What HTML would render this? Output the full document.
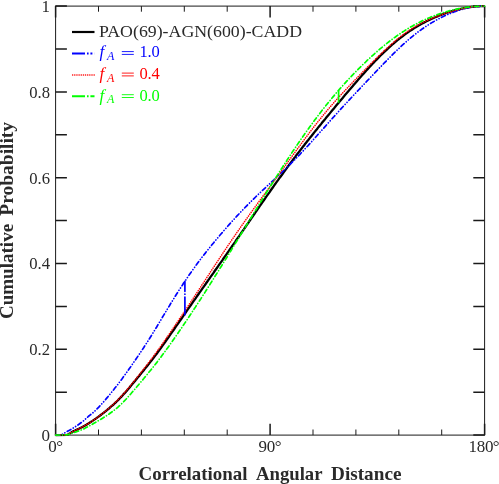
<!DOCTYPE html>
<html><head><meta charset="utf-8"><title>chart</title>
<style>html,body{margin:0;padding:0;background:#fff;}svg{display:block;}text{font-family:"Liberation Serif",serif;}</style></head><body>
<svg width="499" height="484" viewBox="0 0 499 484">
<rect x="0" y="0" width="499" height="484" fill="#fff"/>
<path d="M55.6,6.1 H484.6 M55.6,435.1 H484.6 M55.6,5.6 V435.6 M484.6,5.6 V435.6" stroke="#1a1a1a" stroke-width="1" fill="none"/>
<path d="M55.6,435.10 h11.3 M484.6,435.10 h-11.3 M55.6,392.20 h11.3 M484.6,392.20 h-11.3 M55.6,349.30 h11.3 M484.6,349.30 h-11.3 M55.6,306.40 h11.3 M484.6,306.40 h-11.3 M55.6,263.50 h11.3 M484.6,263.50 h-11.3 M55.6,220.60 h11.3 M484.6,220.60 h-11.3 M55.6,177.70 h11.3 M484.6,177.70 h-11.3 M55.6,134.80 h11.3 M484.6,134.80 h-11.3 M55.6,91.90 h11.3 M484.6,91.90 h-11.3 M55.6,49.00 h11.3 M484.6,49.00 h-11.3 M55.6,6.10 h11.3 M484.6,6.10 h-11.3 " stroke="#1a1a1a" stroke-width="1.5" fill="none"/>
<path d="M55.60,435.1 v-11.3 M55.60,6.1 v11.3 M270.10,435.1 v-11.3 M270.10,6.1 v11.3 M484.60,435.1 v-11.3 M484.60,6.1 v11.3 " stroke="#1a1a1a" stroke-width="1.5" fill="none"/>
<path d="M98.50,435.1 v-5.6 M98.50,6.1 v5.6 M141.40,435.1 v-5.6 M141.40,6.1 v5.6 M184.30,435.1 v-5.6 M184.30,6.1 v5.6 M227.20,435.1 v-5.6 M227.20,6.1 v5.6 M313.00,435.1 v-5.6 M313.00,6.1 v5.6 M355.90,435.1 v-5.6 M355.90,6.1 v5.6 M398.80,435.1 v-5.6 M398.80,6.1 v5.6 M441.70,435.1 v-5.6 M441.70,6.1 v5.6 " stroke="#1a1a1a" stroke-width="1" fill="none"/>
<path d="M55.6,435.10 L66.8,434.80 L67.4,434.69 L68.5,434.24 L69.6,433.58 L70.7,432.83 L71.7,432.15 L72.8,431.60 L73.9,431.08 L75.0,430.57 L76.0,430.07 L77.1,429.58 L78.2,429.08 L79.3,428.58 L80.3,428.06 L81.4,427.51 L82.5,426.94 L83.6,426.36 L84.6,425.75 L85.7,425.14 L86.8,424.50 L87.9,423.85 L88.9,423.19 L90.0,422.51 L91.1,421.81 L92.2,421.10 L93.2,420.37 L94.3,419.63 L95.4,418.88 L96.5,418.12 L97.5,417.35 L98.6,416.57 L99.7,415.78 L100.8,414.98 L101.8,414.16 L102.9,413.33 L104.0,412.49 L105.1,411.63 L106.1,410.77 L107.2,409.88 L108.3,408.99 L109.4,408.08 L110.4,407.15 L111.5,406.21 L112.6,405.26 L113.7,404.29 L114.7,403.30 L115.8,402.30 L116.9,401.28 L118.0,400.22 L119.0,399.14 L120.1,398.04 L121.2,396.91 L122.3,395.75 L123.3,394.58 L124.4,393.38 L125.5,392.17 L126.6,390.93 L127.6,389.68 L128.7,388.42 L129.8,387.15 L130.9,385.87 L131.9,384.59 L133.0,383.29 L134.1,382.00 L135.2,380.70 L136.2,379.39 L137.3,378.08 L138.4,376.77 L139.5,375.46 L140.5,374.14 L141.6,372.82 L142.7,371.50 L143.8,370.17 L144.8,368.84 L145.9,367.51 L147.0,366.17 L148.1,364.83 L149.1,363.48 L150.2,362.12 L151.3,360.76 L152.4,359.38 L153.4,357.99 L154.5,356.59 L155.6,355.17 L156.7,353.74 L157.7,352.30 L158.8,350.84 L159.9,349.36 L161.0,347.87 L162.0,346.36 L163.1,344.85 L164.2,343.32 L165.3,341.79 L166.3,340.27 L167.4,338.75 L168.5,337.22 L169.6,335.69 L170.6,334.16 L171.7,332.62 L172.8,331.08 L173.9,329.54 L174.9,328.00 L176.0,326.45 L177.1,324.91 L178.2,323.36 L179.2,321.81 L180.3,320.26 L181.4,318.71 L182.5,317.16 L183.5,315.61 L184.6,314.06 L185.7,312.51 L186.8,310.96 L187.8,309.41 L188.9,307.86 L190.0,306.31 L191.1,304.77 L192.1,303.22 L193.2,301.68 L194.3,300.14 L195.4,298.60 L196.4,297.06 L197.5,295.52 L198.6,293.98 L199.7,292.44 L200.8,290.91 L201.8,289.37 L202.9,287.84 L204.0,286.31 L205.1,284.78 L206.1,283.25 L207.2,281.72 L208.3,280.19 L209.4,278.66 L210.4,277.13 L211.5,275.61 L212.6,274.08 L213.7,272.55 L214.7,271.02 L215.8,269.49 L216.9,267.96 L218.0,266.43 L219.0,264.90 L220.1,263.37 L221.2,261.84 L222.3,260.31 L223.3,258.77 L224.4,257.24 L225.5,255.70 L226.6,254.16 L227.6,252.63 L228.7,251.08 L229.8,249.54 L230.9,248.00 L231.9,246.45 L233.0,244.91 L234.1,243.36 L235.2,241.81 L236.2,240.26 L237.3,238.70 L238.4,237.15 L239.5,235.60 L240.5,234.04 L241.6,232.48 L242.7,230.92 L243.8,229.36 L244.8,227.80 L245.9,226.24 L247.0,224.68 L248.1,223.11 L249.1,221.55 L250.2,219.99 L251.3,218.43 L252.4,216.86 L253.4,215.30 L254.5,213.74 L255.6,212.18 L256.7,210.62 L257.7,209.06 L258.8,207.50 L259.9,205.95 L261.0,204.39 L262.0,202.84 L263.1,201.29 L264.2,199.75 L265.3,198.20 L266.3,196.66 L267.4,195.12 L268.5,193.59 L269.6,192.05 L270.6,190.52 L271.7,189.00 L272.8,187.48 L273.9,185.96 L274.9,184.45 L276.0,182.94 L277.1,181.43 L278.2,179.93 L279.2,178.44 L280.3,176.95 L281.4,175.46 L282.5,173.98 L283.5,172.51 L284.6,171.04 L285.7,169.57 L286.8,168.11 L287.8,166.66 L288.9,165.21 L290.0,163.76 L291.1,162.32 L292.1,160.89 L293.2,159.46 L294.3,158.04 L295.4,156.62 L296.4,155.20 L297.5,153.80 L298.6,152.39 L299.7,150.99 L300.7,149.60 L301.8,148.21 L302.9,146.83 L304.0,145.45 L305.0,144.07 L306.1,142.70 L307.2,141.33 L308.3,139.97 L309.3,138.61 L310.4,137.26 L311.5,135.91 L312.6,134.56 L313.6,133.21 L314.7,131.87 L315.8,130.54 L316.9,129.20 L317.9,127.87 L319.0,126.54 L320.1,125.22 L321.2,123.90 L322.2,122.58 L323.3,121.26 L324.4,119.94 L325.5,118.63 L326.5,117.32 L327.6,116.01 L328.7,114.70 L329.8,113.40 L330.8,112.10 L331.9,110.79 L333.0,109.50 L334.1,108.20 L335.1,106.90 L336.2,105.61 L337.3,104.32 L338.4,103.03 L339.4,101.74 L340.5,100.45 L341.6,99.17 L342.7,97.89 L343.8,96.61 L344.8,95.33 L345.9,94.06 L347.0,92.79 L348.1,91.52 L349.1,90.25 L350.2,88.99 L351.3,87.73 L352.4,86.47 L353.4,85.22 L354.5,83.97 L355.6,82.72 L356.7,81.48 L357.7,80.24 L358.8,79.01 L359.9,77.78 L361.0,76.56 L362.0,75.35 L363.1,74.14 L364.2,72.93 L365.3,71.73 L366.3,70.54 L367.4,69.36 L368.5,68.18 L369.6,67.01 L370.6,65.85 L371.7,64.70 L372.8,63.55 L373.9,62.42 L374.9,61.29 L376.0,60.17 L377.1,59.07 L378.2,57.97 L379.2,56.88 L380.3,55.80 L381.4,54.74 L382.5,53.68 L383.5,52.64 L384.6,51.61 L385.7,50.59 L386.8,49.58 L387.8,48.58 L388.9,47.60 L390.0,46.63 L391.1,45.67 L392.1,44.72 L393.2,43.79 L394.3,42.87 L395.4,41.96 L396.4,41.07 L397.5,40.19 L398.6,39.32 L399.7,38.46 L400.7,37.62 L401.8,36.80 L402.9,35.98 L404.0,35.18 L405.0,34.39 L406.1,33.62 L407.2,32.86 L408.3,32.11 L409.3,31.38 L410.4,30.65 L411.5,29.94 L412.6,29.25 L413.6,28.56 L414.7,27.89 L415.8,27.23 L416.9,26.59 L417.9,25.95 L419.0,25.33 L420.1,24.71 L421.2,24.11 L422.2,23.52 L423.3,22.95 L424.4,22.38 L425.5,21.82 L426.5,21.28 L427.6,20.74 L428.7,20.22 L429.8,19.70 L430.8,19.20 L431.9,18.70 L433.0,18.22 L434.1,17.74 L435.1,17.28 L436.2,16.82 L437.3,16.37 L438.4,15.94 L439.4,15.51 L440.5,15.09 L441.6,14.68 L442.7,14.27 L443.7,13.88 L444.8,13.50 L445.9,13.12 L447.0,12.76 L448.0,12.40 L449.1,12.05 L450.2,11.71 L451.3,11.38 L452.3,11.06 L453.4,10.75 L454.5,10.44 L455.6,10.15 L456.6,9.87 L457.7,9.59 L458.8,9.33 L459.9,9.07 L460.9,8.83 L462.0,8.59 L463.1,8.36 L464.2,8.15 L465.2,7.94 L466.3,7.75 L467.4,7.56 L468.5,7.39 L469.5,7.22 L470.6,7.07 L471.7,6.93 L472.8,6.80 L473.8,6.68 L474.9,6.57 L476.0,6.47 L477.1,6.38 L478.1,6.31 L479.2,6.24 L480.3,6.19 L481.4,6.15 L482.4,6.12 L483.5,6.11 L484.6,6.10" fill="none" stroke="#000" stroke-width="2.3"/>
<path d="M55.6,435.10 L56.7,435.08 L57.8,435.04 L58.8,434.97 L59.9,434.89 L61.0,434.78 L62.1,434.47 L63.1,433.94 L64.2,433.26 L65.3,432.54 L66.4,431.85 L67.4,431.27 L68.5,430.71 L69.6,430.14 L70.7,429.57 L71.7,428.96 L72.8,428.32 L73.9,427.66 L75.0,426.97 L76.0,426.27 L77.1,425.55 L78.2,424.81 L79.3,424.04 L80.3,423.26 L81.4,422.45 L82.5,421.62 L83.6,420.73 L84.6,419.80 L85.7,418.83 L86.8,417.86 L87.9,416.90 L88.9,415.97 L90.0,415.10 L91.1,414.26 L92.2,413.41 L93.2,412.51 L94.3,411.53 L95.4,410.51 L96.5,409.46 L97.5,408.38 L98.6,407.28 L99.7,406.14 L100.8,404.98 L101.8,403.80 L102.9,402.59 L104.0,401.37 L105.1,400.13 L106.1,398.86 L107.2,397.59 L108.3,396.29 L109.4,394.99 L110.4,393.67 L111.5,392.35 L112.6,391.02 L113.7,389.68 L114.7,388.33 L115.8,386.98 L116.9,385.61 L118.0,384.22 L119.0,382.82 L120.1,381.40 L121.2,379.96 L122.3,378.51 L123.3,377.04 L124.4,375.56 L125.5,374.07 L126.6,372.57 L127.6,371.06 L128.7,369.55 L129.8,368.02 L130.9,366.49 L131.9,364.95 L133.0,363.40 L134.1,361.85 L135.2,360.28 L136.2,358.71 L137.3,357.13 L138.4,355.55 L139.5,353.95 L140.5,352.35 L141.6,350.73 L142.7,349.11 L143.8,347.48 L144.8,345.83 L145.9,344.18 L147.0,342.52 L148.1,340.84 L149.1,339.16 L150.2,337.46 L151.3,335.74 L152.4,334.00 L153.4,332.26 L154.5,330.50 L155.6,328.72 L156.7,326.95 L157.7,325.16 L158.8,323.36 L159.9,321.57 L161.0,319.77 L162.0,317.97 L163.1,316.16 L164.2,314.36 L165.3,312.57 L166.3,310.79 L167.4,309.01 L168.5,307.23 L169.6,305.47 L170.6,303.70 L171.7,301.95 L172.8,300.20 L173.9,298.47 L174.9,296.74 L176.0,295.02 L177.1,293.31 L178.2,291.62 L179.2,289.93 L180.3,288.26 L181.4,286.60 L182.5,284.95 L183.5,283.31 L184.6,281.69 L185.7,280.09 L186.8,278.49 L187.8,276.91 L188.9,275.34 L190.0,273.79 L191.1,272.25 L192.1,270.72 L193.2,269.21 L194.3,267.71 L195.4,266.22 L196.4,264.75 L197.5,263.29 L198.6,261.84 L199.7,260.40 L200.8,258.98 L201.8,257.57 L202.9,256.17 L204.0,254.77 L205.1,253.39 L206.1,252.03 L207.2,250.67 L208.3,249.32 L209.4,247.97 L210.4,246.64 L211.5,245.32 L212.6,244.01 L213.7,242.70 L214.7,241.40 L215.8,240.11 L216.9,238.83 L218.0,237.55 L219.0,236.28 L220.1,235.02 L221.2,233.76 L222.3,232.51 L223.3,231.27 L224.4,230.03 L225.5,228.80 L226.6,227.58 L227.6,226.36 L228.7,225.15 L229.8,223.94 L230.9,222.75 L231.9,221.55 L233.0,220.37 L234.1,219.19 L235.2,218.01 L236.2,216.85 L237.3,215.69 L238.4,214.53 L239.5,213.39 L240.5,212.25 L241.6,211.11 L242.7,209.99 L243.8,208.87 L244.8,207.75 L245.9,206.65 L247.0,205.55 L248.1,204.46 L249.1,203.37 L250.2,202.29 L251.3,201.22 L252.4,200.16 L253.4,199.10 L254.5,198.04 L255.6,197.00 L256.7,195.95 L257.7,194.92 L258.8,193.89 L259.9,192.86 L261.0,191.84 L262.0,190.82 L263.1,189.81 L264.2,188.80 L265.3,187.79 L266.3,186.79 L267.4,185.78 L268.5,184.78 L269.6,183.78 L270.6,182.79 L271.7,181.79 L272.8,180.79 L273.9,179.79 L274.9,178.79 L276.0,177.79 L277.1,176.78 L278.2,175.78 L279.2,174.77 L280.3,173.76 L281.4,172.74 L282.5,171.72 L283.5,170.69 L284.6,169.66 L285.7,168.63 L286.8,167.58 L287.8,166.54 L288.9,165.48 L290.0,164.42 L291.1,163.35 L292.1,162.28 L293.2,161.20 L294.3,160.11 L295.4,159.02 L296.4,157.91 L297.5,156.80 L298.6,155.69 L299.7,154.56 L300.7,153.43 L301.8,152.29 L302.9,151.15 L304.0,150.00 L305.0,148.84 L306.1,147.68 L307.2,146.51 L308.3,145.33 L309.3,144.15 L310.4,142.97 L311.5,141.78 L312.6,140.59 L313.6,139.39 L314.7,138.19 L315.8,136.99 L316.9,135.79 L317.9,134.58 L319.0,133.37 L320.1,132.16 L321.2,130.95 L322.2,129.74 L323.3,128.53 L324.4,127.32 L325.5,126.11 L326.5,124.90 L327.6,123.69 L328.7,122.48 L329.8,121.28 L330.8,120.08 L331.9,118.87 L333.0,117.68 L334.1,116.48 L335.1,115.29 L336.2,114.10 L337.3,112.91 L338.4,111.72 L339.4,110.54 L340.5,109.36 L341.6,108.19 L342.7,107.01 L343.8,105.84 L344.8,104.68 L345.9,103.51 L347.0,102.35 L348.1,101.19 L349.1,100.04 L350.2,98.89 L351.3,97.73 L352.4,96.59 L353.4,95.44 L354.5,94.29 L355.6,93.15 L356.7,92.01 L357.7,90.87 L358.8,89.73 L359.9,88.59 L361.0,87.45 L362.0,86.31 L363.1,85.18 L364.2,84.04 L365.3,82.91 L366.3,81.78 L367.4,80.64 L368.5,79.51 L369.6,78.38 L370.6,77.25 L371.7,76.12 L372.8,74.99 L373.9,73.86 L374.9,72.73 L376.0,71.60 L377.1,70.48 L378.2,69.36 L379.2,68.23 L380.3,67.11 L381.4,66.00 L382.5,64.88 L383.5,63.77 L384.6,62.67 L385.7,61.56 L386.8,60.46 L387.8,59.37 L388.9,58.28 L390.0,57.19 L391.1,56.11 L392.1,55.04 L393.2,53.97 L394.3,52.91 L395.4,51.86 L396.4,50.81 L397.5,49.78 L398.6,48.75 L399.7,47.73 L400.7,46.72 L401.8,45.72 L402.9,44.73 L404.0,43.75 L405.0,42.78 L406.1,41.83 L407.2,40.88 L408.3,39.94 L409.3,39.02 L410.4,38.11 L411.5,37.21 L412.6,36.33 L413.6,35.46 L414.7,34.60 L415.8,33.75 L416.9,32.91 L417.9,32.09 L419.0,31.29 L420.1,30.49 L421.2,29.71 L422.2,28.94 L423.3,28.19 L424.4,27.45 L425.5,26.72 L426.5,26.01 L427.6,25.31 L428.7,24.62 L429.8,23.94 L430.8,23.28 L431.9,22.63 L433.0,21.99 L434.1,21.37 L435.1,20.76 L436.2,20.16 L437.3,19.57 L438.4,18.99 L439.4,18.43 L440.5,17.88 L441.6,17.34 L442.7,16.82 L443.7,16.30 L444.8,15.80 L445.9,15.31 L447.0,14.83 L448.0,14.36 L449.1,13.90 L450.2,13.46 L451.3,13.03 L452.3,12.61 L453.4,12.20 L454.5,11.80 L455.6,11.42 L456.6,11.04 L457.7,10.69 L458.8,10.34 L459.9,10.00 L460.9,9.68 L462.0,9.37 L463.1,9.08 L464.2,8.79 L465.2,8.52 L466.3,8.27 L467.4,8.02 L468.5,7.79 L469.5,7.58 L470.6,7.38 L471.7,7.19 L472.8,7.02 L473.8,6.86 L474.9,6.72 L476.0,6.59 L477.1,6.47 L478.1,6.37 L479.2,6.29 L480.3,6.22 L481.4,6.17 L482.4,6.13 L483.5,6.11 L484.6,6.10" fill="none" stroke="#0000ff" stroke-width="1.7" stroke-linecap="round" stroke-dasharray="4.2 2.7 0.1 2.7 0.1 2.7"/>
<path d="M55.6,435.10 L66.8,434.80 L67.4,434.69 L68.5,434.24 L69.6,433.58 L70.7,432.83 L71.7,432.15 L72.8,431.60 L73.9,431.08 L75.0,430.57 L76.0,430.07 L77.1,429.58 L78.2,429.08 L79.3,428.58 L80.3,428.06 L81.4,427.51 L82.5,426.94 L83.6,426.36 L84.6,425.76 L85.7,425.14 L86.8,424.51 L87.9,423.86 L88.9,423.20 L90.0,422.51 L91.1,421.81 L92.2,421.09 L93.2,420.36 L94.3,419.61 L95.4,418.86 L96.5,418.09 L97.5,417.30 L98.6,416.51 L99.7,415.70 L100.8,414.88 L101.8,414.04 L102.9,413.19 L104.0,412.33 L105.1,411.46 L106.1,410.57 L107.2,409.66 L108.3,408.74 L109.4,407.81 L110.4,406.86 L111.5,405.90 L112.6,404.92 L113.7,403.93 L114.7,402.92 L115.8,401.90 L116.9,400.85 L118.0,399.77 L119.0,398.67 L120.1,397.55 L121.2,396.40 L122.3,395.22 L123.3,394.03 L124.4,392.82 L125.5,391.58 L126.6,390.32 L127.6,389.04 L128.7,387.76 L129.8,386.46 L130.9,385.15 L131.9,383.83 L133.0,382.51 L134.1,381.17 L135.2,379.84 L136.2,378.49 L137.3,377.14 L138.4,375.78 L139.5,374.42 L140.5,373.06 L141.6,371.69 L142.7,370.32 L143.8,368.94 L144.8,367.56 L145.9,366.18 L147.0,364.79 L148.1,363.39 L149.1,361.99 L150.2,360.58 L151.3,359.17 L152.4,357.74 L153.4,356.29 L154.5,354.84 L155.6,353.37 L156.7,351.89 L157.7,350.41 L158.8,348.91 L159.9,347.40 L161.0,345.89 L162.0,344.37 L163.1,342.83 L164.2,341.29 L165.3,339.75 L166.3,338.20 L167.4,336.65 L168.5,335.09 L169.6,333.53 L170.6,331.96 L171.7,330.39 L172.8,328.82 L173.9,327.24 L174.9,325.66 L176.0,324.07 L177.1,322.48 L178.2,320.88 L179.2,319.29 L180.3,317.69 L181.4,316.08 L182.5,314.48 L183.5,312.87 L184.6,311.26 L185.7,309.64 L186.8,308.03 L187.8,306.41 L188.9,304.78 L190.0,303.16 L191.1,301.54 L192.1,299.91 L193.2,298.28 L194.3,296.65 L195.4,295.02 L196.4,293.38 L197.5,291.75 L198.6,290.11 L199.7,288.47 L200.8,286.83 L201.8,285.19 L202.9,283.55 L204.0,281.91 L205.1,280.27 L206.1,278.63 L207.2,276.99 L208.3,275.35 L209.4,273.71 L210.4,272.07 L211.5,270.44 L212.6,268.80 L213.7,267.16 L214.7,265.53 L215.8,263.90 L216.9,262.27 L218.0,260.64 L219.0,259.01 L220.1,257.39 L221.2,255.77 L222.3,254.15 L223.3,252.54 L224.4,250.93 L225.5,249.33 L226.6,247.72 L227.6,246.12 L228.7,244.53 L229.8,242.94 L230.9,241.36 L231.9,239.78 L233.0,238.20 L234.1,236.63 L235.2,235.06 L236.2,233.50 L237.3,231.95 L238.4,230.40 L239.5,228.85 L240.5,227.31 L241.6,225.77 L242.7,224.24 L243.8,222.72 L244.8,221.20 L245.9,219.68 L247.0,218.17 L248.1,216.66 L249.1,215.16 L250.2,213.66 L251.3,212.17 L252.4,210.67 L253.4,209.19 L254.5,207.70 L255.6,206.22 L256.7,204.74 L257.7,203.27 L258.8,201.79 L259.9,200.32 L261.0,198.85 L262.0,197.38 L263.1,195.91 L264.2,194.45 L265.3,192.98 L266.3,191.52 L267.4,190.05 L268.5,188.59 L269.6,187.12 L270.6,185.66 L271.7,184.19 L272.8,182.72 L273.9,181.25 L274.9,179.79 L276.0,178.32 L277.1,176.85 L278.2,175.37 L279.2,173.90 L280.3,172.43 L281.4,170.95 L282.5,169.48 L283.5,168.00 L284.6,166.52 L285.7,165.04 L286.8,163.56 L287.8,162.08 L288.9,160.60 L290.0,159.12 L291.1,157.64 L292.1,156.16 L293.2,154.69 L294.3,153.21 L295.4,151.73 L296.4,150.26 L297.5,148.79 L298.6,147.32 L299.7,145.85 L300.7,144.39 L301.8,142.93 L302.9,141.48 L304.0,140.03 L305.0,138.58 L306.1,137.14 L307.2,135.71 L308.3,134.28 L309.3,132.86 L310.4,131.45 L311.5,130.04 L312.6,128.64 L313.6,127.25 L314.7,125.86 L315.8,124.48 L316.9,123.12 L317.9,121.76 L319.0,120.41 L320.1,119.07 L321.2,117.73 L322.2,116.41 L323.3,115.10 L324.4,113.79 L325.5,112.50 L326.5,111.21 L327.6,109.94 L328.7,108.67 L329.8,107.41 L330.8,106.16 L331.9,104.92 L333.0,103.69 L334.1,102.46 L335.1,101.25 L336.2,100.04 L337.3,98.84 L338.4,97.65 L339.4,96.46 L340.5,95.28 L341.6,94.11 L342.7,92.94 L343.8,91.78 L344.8,90.63 L345.9,89.48 L347.0,88.34 L348.1,87.20 L349.1,86.06 L350.2,84.93 L351.3,83.80 L352.4,82.68 L353.4,81.55 L354.5,80.44 L355.6,79.32 L356.7,78.21 L357.7,77.10 L358.8,75.99 L359.9,74.88 L361.0,73.78 L362.0,72.68 L363.1,71.58 L364.2,70.48 L365.3,69.39 L366.3,68.30 L367.4,67.21 L368.5,66.12 L369.6,65.04 L370.6,63.96 L371.7,62.88 L372.8,61.81 L373.9,60.74 L374.9,59.67 L376.0,58.61 L377.1,57.55 L378.2,56.50 L379.2,55.46 L380.3,54.42 L381.4,53.39 L382.5,52.36 L383.5,51.35 L384.6,50.34 L385.7,49.34 L386.8,48.35 L387.8,47.37 L388.9,46.39 L390.0,45.43 L391.1,44.48 L392.1,43.54 L393.2,42.61 L394.3,41.70 L395.4,40.79 L396.4,39.90 L397.5,39.03 L398.6,38.16 L399.7,37.31 L400.7,36.48 L401.8,35.65 L402.9,34.85 L404.0,34.05 L405.0,33.27 L406.1,32.51 L407.2,31.76 L408.3,31.03 L409.3,30.31 L410.4,29.60 L411.5,28.91 L412.6,28.24 L413.6,27.58 L414.7,26.93 L415.8,26.30 L416.9,25.68 L417.9,25.07 L419.0,24.48 L420.1,23.91 L421.2,23.34 L422.2,22.79 L423.3,22.25 L424.4,21.72 L425.5,21.20 L426.5,20.70 L427.6,20.21 L428.7,19.72 L429.8,19.25 L430.8,18.79 L431.9,18.33 L433.0,17.89 L434.1,17.45 L435.1,17.03 L436.2,16.61 L437.3,16.20 L438.4,15.80 L439.4,15.40 L440.5,15.01 L441.6,14.64 L442.7,14.26 L443.7,13.90 L444.8,13.54 L445.9,13.19 L447.0,12.84 L448.0,12.50 L449.1,12.17 L450.2,11.85 L451.3,11.53 L452.3,11.22 L453.4,10.91 L454.5,10.62 L455.6,10.33 L456.6,10.04 L457.7,9.77 L458.8,9.50 L459.9,9.24 L460.9,8.99 L462.0,8.75 L463.1,8.52 L464.2,8.29 L465.2,8.08 L466.3,7.87 L467.4,7.68 L468.5,7.49 L469.5,7.32 L470.6,7.16 L471.7,7.00 L472.8,6.86 L473.8,6.73 L474.9,6.61 L476.0,6.51 L477.1,6.41 L478.1,6.33 L479.2,6.26 L480.3,6.20 L481.4,6.16 L482.4,6.13 L483.5,6.11 L484.6,6.10" fill="none" stroke="#ff0000" stroke-width="1.6" stroke-linecap="round" stroke-dasharray="0.1 2.15"/>
<path d="M184.9,281.3 L184.9,314.7" fill="none" stroke="#0000ff" stroke-width="1.7" stroke-linecap="round" stroke-dasharray="10 2.8 0.1 2.8 30"/>
<path d="M55.6,435.10 L66.8,434.80 L67.4,434.73 L68.5,434.48 L69.6,434.11 L70.7,433.70 L71.7,433.29 L72.8,432.94 L73.9,432.58 L75.0,432.22 L76.0,431.86 L77.1,431.48 L78.2,431.10 L79.3,430.70 L80.3,430.28 L81.4,429.85 L82.5,429.39 L83.6,428.91 L84.6,428.39 L85.7,427.85 L86.8,427.30 L87.9,426.72 L88.9,426.13 L90.0,425.53 L91.1,424.92 L92.2,424.31 L93.2,423.70 L94.3,423.09 L95.4,422.47 L96.5,421.85 L97.5,421.23 L98.6,420.60 L99.7,419.97 L100.8,419.32 L101.8,418.67 L102.9,418.01 L104.0,417.34 L105.1,416.66 L106.1,415.96 L107.2,415.25 L108.3,414.52 L109.4,413.78 L110.4,413.02 L111.5,412.24 L112.6,411.45 L113.7,410.63 L114.7,409.79 L115.8,408.93 L116.9,408.04 L118.0,407.11 L119.0,406.15 L120.1,405.16 L121.2,404.14 L122.3,403.09 L123.3,402.01 L124.4,400.91 L125.5,399.78 L126.6,398.61 L127.6,397.43 L128.7,396.23 L129.8,395.01 L130.9,393.79 L131.9,392.56 L133.0,391.31 L134.1,390.06 L135.2,388.80 L136.2,387.53 L137.3,386.26 L138.4,384.99 L139.5,383.71 L140.5,382.43 L141.6,381.14 L142.7,379.85 L143.8,378.56 L144.8,377.27 L145.9,375.97 L147.0,374.67 L148.1,373.37 L149.1,372.06 L150.2,370.75 L151.3,369.42 L152.4,368.09 L153.4,366.74 L154.5,365.38 L155.6,364.00 L156.7,362.62 L157.7,361.22 L158.8,359.81 L159.9,358.39 L161.0,356.96 L162.0,355.52 L163.1,354.06 L164.2,352.60 L165.3,351.12 L166.3,349.64 L167.4,348.15 L168.5,346.65 L169.6,345.15 L170.6,343.64 L171.7,342.12 L172.8,340.59 L173.9,339.06 L174.9,337.52 L176.0,335.97 L177.1,334.42 L178.2,332.86 L179.2,331.30 L180.3,329.73 L181.4,328.15 L182.5,326.57 L183.5,324.98 L184.6,323.38 L185.7,321.78 L186.8,320.18 L187.8,318.57 L188.9,316.95 L190.0,315.33 L191.1,313.70 L192.1,312.07 L193.2,310.44 L194.3,308.80 L195.4,307.15 L196.4,305.50 L197.5,303.84 L198.6,302.18 L199.7,300.52 L200.8,298.85 L201.8,297.18 L202.9,295.50 L204.0,293.82 L205.1,292.14 L206.1,290.45 L207.2,288.75 L208.3,287.06 L209.4,285.36 L210.4,283.65 L211.5,281.95 L212.6,280.24 L213.7,278.52 L214.7,276.80 L215.8,275.08 L216.9,273.36 L218.0,271.64 L219.0,269.91 L220.1,268.17 L221.2,266.44 L222.3,264.70 L223.3,262.97 L224.4,261.22 L225.5,259.48 L226.6,257.73 L227.6,255.99 L228.7,254.24 L229.8,252.49 L230.9,250.73 L231.9,248.98 L233.0,247.23 L234.1,245.47 L235.2,243.71 L236.2,241.95 L237.3,240.19 L238.4,238.43 L239.5,236.67 L240.5,234.91 L241.6,233.15 L242.7,231.39 L243.8,229.62 L244.8,227.86 L245.9,226.10 L247.0,224.34 L248.1,222.58 L249.1,220.81 L250.2,219.05 L251.3,217.29 L252.4,215.54 L253.4,213.78 L254.5,212.02 L255.6,210.27 L256.7,208.51 L257.7,206.76 L258.8,205.01 L259.9,203.26 L261.0,201.51 L262.0,199.77 L263.1,198.02 L264.2,196.28 L265.3,194.55 L266.3,192.81 L267.4,191.08 L268.5,189.35 L269.6,187.62 L270.6,185.90 L271.7,184.18 L272.8,182.47 L273.9,180.75 L274.9,179.04 L276.0,177.34 L277.1,175.64 L278.2,173.95 L279.2,172.25 L280.3,170.57 L281.4,168.89 L282.5,167.21 L283.5,165.54 L284.6,163.88 L285.7,162.22 L286.8,160.56 L287.8,158.91 L288.9,157.27 L290.0,155.64 L291.1,154.01 L292.1,152.39 L293.2,150.77 L294.3,149.16 L295.4,147.56 L296.4,145.97 L297.5,144.38 L298.6,142.80 L299.7,141.23 L300.7,139.66 L301.8,138.11 L302.9,136.56 L304.0,135.02 L305.0,133.49 L306.1,131.97 L307.2,130.45 L308.3,128.95 L309.3,127.45 L310.4,125.97 L311.5,124.49 L312.6,123.02 L313.6,121.56 L314.7,120.11 L315.8,118.67 L316.9,117.23 L317.9,115.81 L319.0,114.40 L320.1,113.00 L321.2,111.60 L322.2,110.22 L323.3,108.84 L324.4,107.47 L325.5,106.12 L326.5,104.77 L327.6,103.43 L328.7,102.11 L329.8,100.79 L330.8,99.48 L331.9,98.18 L333.0,96.89 L334.1,95.61 L335.1,94.34 L336.2,93.07 L337.3,91.82 L338.4,90.58 L339.4,89.34 L340.5,88.12 L341.6,86.90 L342.7,85.69 L343.8,84.49 L344.8,83.30 L345.9,82.12 L347.0,80.94 L348.1,79.78 L349.1,78.62 L350.2,77.47 L351.3,76.33 L352.4,75.20 L353.4,74.08 L354.5,72.97 L355.6,71.86 L356.7,70.76 L357.7,69.67 L358.8,68.59 L359.9,67.52 L361.0,66.45 L362.0,65.40 L363.1,64.35 L364.2,63.31 L365.3,62.28 L366.3,61.25 L367.4,60.24 L368.5,59.23 L369.6,58.23 L370.6,57.24 L371.7,56.26 L372.8,55.28 L373.9,54.32 L374.9,53.36 L376.0,52.42 L377.1,51.48 L378.2,50.55 L379.2,49.63 L380.3,48.72 L381.4,47.81 L382.5,46.92 L383.5,46.04 L384.6,45.16 L385.7,44.30 L386.8,43.44 L387.8,42.59 L388.9,41.76 L390.0,40.93 L391.1,40.11 L392.1,39.31 L393.2,38.51 L394.3,37.72 L395.4,36.94 L396.4,36.18 L397.5,35.42 L398.6,34.67 L399.7,33.94 L400.7,33.21 L401.8,32.50 L402.9,31.79 L404.0,31.10 L405.0,30.41 L406.1,29.74 L407.2,29.07 L408.3,28.42 L409.3,27.78 L410.4,27.15 L411.5,26.52 L412.6,25.91 L413.6,25.31 L414.7,24.72 L415.8,24.14 L416.9,23.57 L417.9,23.01 L419.0,22.46 L420.1,21.92 L421.2,21.39 L422.2,20.87 L423.3,20.36 L424.4,19.86 L425.5,19.37 L426.5,18.89 L427.6,18.42 L428.7,17.95 L429.8,17.50 L430.8,17.06 L431.9,16.63 L433.0,16.20 L434.1,15.79 L435.1,15.38 L436.2,14.98 L437.3,14.60 L438.4,14.22 L439.4,13.85 L440.5,13.49 L441.6,13.13 L442.7,12.79 L443.7,12.45 L444.8,12.13 L445.9,11.81 L447.0,11.50 L448.0,11.20 L449.1,10.91 L450.2,10.62 L451.3,10.35 L452.3,10.08 L453.4,9.82 L454.5,9.57 L455.6,9.33 L456.6,9.10 L457.7,8.88 L458.8,8.66 L459.9,8.45 L460.9,8.26 L462.0,8.07 L463.1,7.88 L464.2,7.71 L465.2,7.55 L466.3,7.39 L467.4,7.25 L468.5,7.11 L469.5,6.98 L470.6,6.86 L471.7,6.75 L472.8,6.64 L473.8,6.55 L474.9,6.46 L476.0,6.39 L477.1,6.32 L478.1,6.26 L479.2,6.21 L480.3,6.17 L481.4,6.14 L482.4,6.12 L483.5,6.10 L484.6,6.10" fill="none" stroke="#00ff00" stroke-width="1.7" stroke-linecap="round" stroke-dasharray="4.2 2.7 0.1 2.7"/>
<path d="M338.6,90.3 L338.6,102.8" fill="none" stroke="#00ff00" stroke-width="1.7"/>
<g opacity="0.999">
<text x="50" y="441.0" font-size="17" text-anchor="end" fill="#2a2a2a">0</text>
<text x="29.2" y="355.2" font-size="17" fill="#2a2a2a" textLength="20.8" lengthAdjust="spacingAndGlyphs">0.2</text>
<text x="29.2" y="269.4" font-size="17" fill="#2a2a2a" textLength="20.8" lengthAdjust="spacingAndGlyphs">0.4</text>
<text x="29.2" y="183.6" font-size="17" fill="#2a2a2a" textLength="20.8" lengthAdjust="spacingAndGlyphs">0.6</text>
<text x="29.2" y="97.8" font-size="17" fill="#2a2a2a" textLength="20.8" lengthAdjust="spacingAndGlyphs">0.8</text>
<text x="50" y="12.0" font-size="17" text-anchor="end" fill="#2a2a2a">1</text>
<text x="48.2" y="452.4" font-size="17" fill="#2a2a2a">0<tspan dx="-0.5">°</tspan></text>
<text x="258.6" y="452.4" font-size="17" fill="#2a2a2a" letter-spacing="-0.3">90<tspan dx="-0.3">°</tspan></text>
<text x="468.5" y="452.4" font-size="17" fill="#2a2a2a" letter-spacing="-0.3">180<tspan dx="-0.3">°</tspan></text>
<text x="138.6" y="480" font-size="17.8" font-weight="bold" fill="#2a2a2a" textLength="108.9" lengthAdjust="spacingAndGlyphs">Correlational</text>
<text x="256" y="480" font-size="17.8" font-weight="bold" fill="#2a2a2a" textLength="66.5" lengthAdjust="spacingAndGlyphs">Angular</text>
<text x="331" y="480" font-size="17.8" font-weight="bold" fill="#2a2a2a" textLength="70.5" lengthAdjust="spacingAndGlyphs">Distance</text>
<text transform="translate(12.9,319.1) rotate(-90)" font-size="17.8" font-weight="bold" fill="#2a2a2a" textLength="95.2" lengthAdjust="spacingAndGlyphs">Cumulative</text>
<text transform="translate(12.9,215.7) rotate(-90)" font-size="17.8" font-weight="bold" fill="#2a2a2a" textLength="93.8" lengthAdjust="spacingAndGlyphs">Probability</text>
<path d="M72,32 H94.5" stroke="#000" stroke-width="2.2" fill="none"/>
<path d="M72,53.6 H94.5" stroke="#0000ff" stroke-width="2" stroke-dasharray="13 2 1.6 1.8 2 2" fill="none"/>
<path d="M72.6,75 H94.5" stroke="#ff0000" stroke-width="1.5" stroke-linecap="round" stroke-dasharray="0.1 2.05" fill="none"/>
<path d="M72,96.3 H94.5" stroke="#00ff00" stroke-width="2" stroke-dasharray="13 2 1.6 1.8" fill="none"/>
<text x="99" y="36.5" font-size="16.8" fill="#2a2a2a" textLength="203" lengthAdjust="spacingAndGlyphs">PAO(69)-AGN(600)-CADD</text>
<text x="99.5" y="57.4" font-size="17" font-style="italic" fill="#0000ff">f</text>
<text x="107" y="60.0" font-size="12" font-style="italic" fill="#0000ff">A</text>
<path d="M121.8,51.6 h12 M121.8,54.4 h12" stroke="#0000ff" stroke-width="0.9" fill="none"/>
<text x="139.5" y="57.4" font-size="16.5" fill="#0000ff" textLength="20.3" lengthAdjust="spacing">1.0</text>
<text x="99.5" y="78.9" font-size="17" font-style="italic" fill="#ff0000">f</text>
<text x="107" y="81.5" font-size="12" font-style="italic" fill="#ff0000">A</text>
<path d="M121.8,73.10000000000001 h12 M121.8,75.9 h12" stroke="#ff0000" stroke-width="0.9" fill="none"/>
<text x="139.5" y="78.9" font-size="16.5" fill="#ff0000" textLength="20.3" lengthAdjust="spacing">0.4</text>
<text x="99.5" y="100.5" font-size="17" font-style="italic" fill="#00ff00">f</text>
<text x="107" y="103.1" font-size="12" font-style="italic" fill="#00ff00">A</text>
<path d="M121.8,94.7 h12 M121.8,97.5 h12" stroke="#00ff00" stroke-width="0.9" fill="none"/>
<text x="139.5" y="100.5" font-size="16.5" fill="#00ff00" textLength="20.3" lengthAdjust="spacing">0.0</text>
</g>
</svg></body></html>
